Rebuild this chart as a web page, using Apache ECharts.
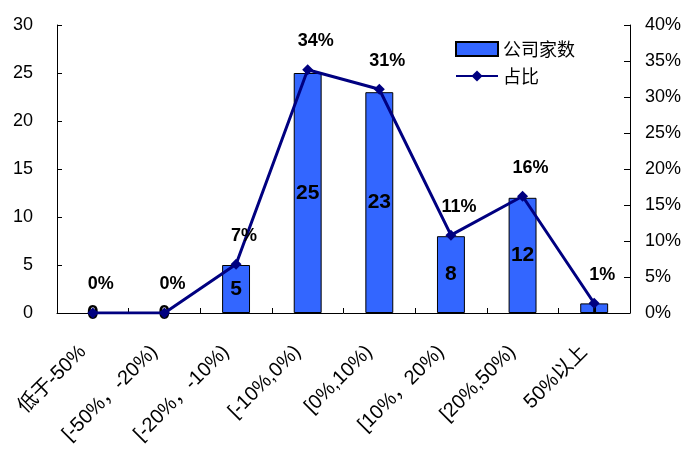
<!DOCTYPE html>
<html>
<head>
<meta charset="utf-8">
<script src="https://cdn.jsdelivr.net/npm/echarts@6/dist/echarts.min.js"></script>
<style>
  html, body { margin: 0; padding: 0; background: #fff; }
  #chart { width: 687px; height: 454px; }
</style>
</head>
<body>
<div id="chart"></div>
<script>
// Distribution of companies by change range
const categories = ['低于-50%', '[-50%，-20%)', '[-20%，-10%)', '[-10%,0%)', '[0%,10%)', '[10%，20%)', '[20%,50%)', '50%以上'];
const companyCounts = [0, 0, 5, 25, 23, 8, 12, 1];
const shares = [0, 0, 6.76, 33.78, 31.08, 10.81, 16.22, 1.35];
const leftTicks = [0, 5, 10, 15, 20, 25, 30];
const rightTicks = [0, 5, 10, 15, 20, 25, 30, 35, 40];

const FONT = '"Liberation Sans", Arial, "Noto Sans CJK SC", sans-serif';

// empty bars get no outline so only their value label remains
const barData = companyCounts.map(v => v === 0 ? { value: v, itemStyle: { borderWidth: 0 } } : v);

const chart = echarts.init(document.getElementById('chart'));
chart.setOption({
  animation: false,
  backgroundColor: '#fff',
  textStyle: { fontFamily: FONT },
  grid: { left: 57, right: 57, top: 25, bottom: 141, containLabel: false },
  legend: {
    left: 450, top: 35, orient: 'vertical', itemGap: 9,
    itemWidth: 42, itemHeight: 14,
    textStyle: { fontSize: 18, color: '#000', fontFamily: '"Noto Sans CJK SC", sans-serif' },
    data: [
      { name: '公司家数', icon: 'rect' },
      { name: '占比' }
    ]
  },
  xAxis: {
    type: 'category',
    data: categories,
    axisLine: { lineStyle: { color: '#000', width: 1 } },
    axisTick: { show: true, inside: true, length: 5, alignWithLabel: false, lineStyle: { color: '#000' } },
    axisLabel: {
      rotate: 45, interval: 0, margin: 26, padding: [0, 14, 0, 0],
      fontSize: 20, color: '#000', fontFamily: FONT
    }
  },
  yAxis: [
    {
      type: 'value', min: leftTicks[0], max: leftTicks[leftTicks.length - 1], interval: 5,
      splitLine: { show: false },
      axisLine: { show: true, lineStyle: { color: '#000' } },
      axisTick: { show: true, inside: true, length: 5, lineStyle: { color: '#000' } },
      axisLabel: { margin: 24, fontSize: 18, color: '#000', fontFamily: FONT }
    },
    {
      type: 'value', min: rightTicks[0], max: rightTicks[rightTicks.length - 1], interval: 5,
      position: 'right',
      splitLine: { show: false },
      axisLine: { show: true, lineStyle: { color: '#000' } },
      axisTick: { show: true, inside: true, length: 6, lineStyle: { color: '#000' } },
      axisLabel: { margin: 15, fontSize: 18, color: '#000', fontFamily: FONT, formatter: v => v + '%' }
    }
  ],
  series: [
    {
      name: '公司家数',
      type: 'bar',
      data: barData,
      barWidth: '39%',
      itemStyle: { color: '#3366FF', borderColor: '#000', borderWidth: 1 },
      label: {
        show: true, position: 'inside', fontSize: 21, fontWeight: 'bold', color: '#000',
        fontFamily: FONT
      },
      z: 2
    },
    {
      name: '占比',
      type: 'line',
      yAxisIndex: 1,
      data: shares,
      symbol: 'diamond',
      symbolSize: 11,
      lineStyle: { color: '#000080', width: 3 },
      itemStyle: { color: '#000080' },
      label: {
        show: true, position: 'top', distance: 14, offset: [8, 0],
        fontSize: 18, fontWeight: 'bold', color: '#000', fontFamily: FONT,
        formatter: p => Math.round(p.value) + '%'
      },
      z: 3
    }
  ]
});
</script>
</body>
</html>
